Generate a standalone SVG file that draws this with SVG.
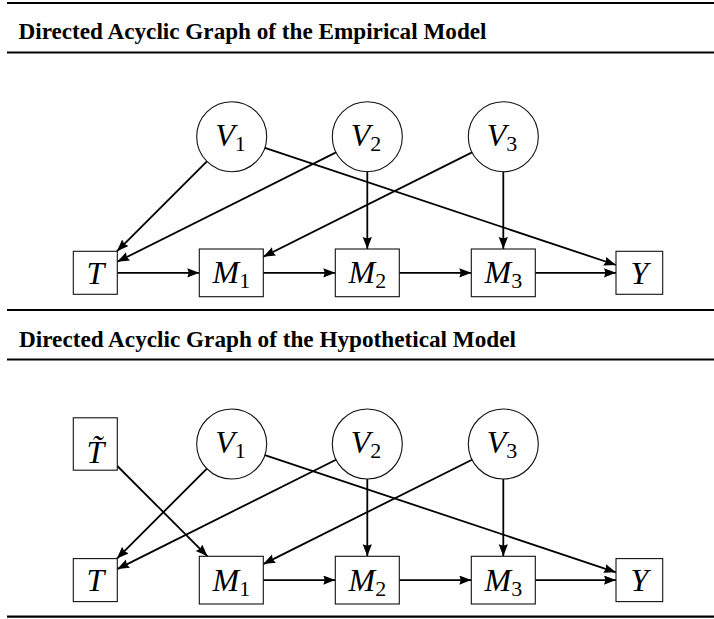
<svg xmlns="http://www.w3.org/2000/svg" width="714" height="619" viewBox="0 0 714 619">
<style>
.rule{stroke:#000;stroke-width:2.2}
.title{font-family:"Liberation Serif",serif;font-weight:bold;font-size:23.5px;fill:#000}
.lbl{font-family:"Liberation Serif",serif;font-style:italic;font-size:32px;fill:#000}
.sub{font-style:normal;font-size:22px}
.node{fill:#fff;stroke:#111;stroke-width:1.1}
.edge{stroke:#000;stroke-width:1.8;fill:none;marker-end:url(#ah)}
</style>
<defs>
<marker id="ah" markerUnits="userSpaceOnUse" markerWidth="13" markerHeight="10" refX="12" refY="4.6" orient="auto">
<path d="M0,0 L12,4.6 L0,9.2 L1.5,4.6 z" fill="#000"/>
</marker>
</defs>
<rect width="714" height="619" fill="#fff"/>
<g id="rules">
<line class="rule" x1="7" y1="3" x2="714" y2="3"/>
<line class="rule" x1="7" y1="52.5" x2="714" y2="52.5"/>
<line class="rule" x1="7" y1="310" x2="714" y2="310"/>
<line class="rule" x1="7" y1="359.5" x2="714" y2="359.5"/>
<line class="rule" x1="7" y1="616.7" x2="714" y2="616.7"/>
</g>
<text id="title1" class="title" x="18.5" y="39" textLength="468" lengthAdjust="spacingAndGlyphs">Directed Acyclic Graph of the Empirical Model</text>
<text id="title2" class="title" x="19" y="346.7" textLength="497" lengthAdjust="spacingAndGlyphs">Directed Acyclic Graph of the Hypothetical Model</text>

<g id="connectors">
<!-- top -->
<line class="edge" x1="206.9" y1="161.4" x2="116.9" y2="251.3"/>
<line class="edge" x1="336.0" y1="152.4" x2="117.3" y2="261.8"/>
<line class="edge" x1="472.0" y1="152.4" x2="263.3" y2="256.8"/>
<line class="edge" x1="264.9" y1="147.8" x2="616" y2="265.0"/>
<line class="edge" x1="367.3" y1="171.7" x2="367.3" y2="249"/>
<line class="edge" x1="503.3" y1="171.7" x2="503.3" y2="249"/>
<line class="edge" x1="117.3" y1="272.8" x2="199.3" y2="272.8"/>
<line class="edge" x1="263.3" y1="272.8" x2="335.3" y2="272.8"/>
<line class="edge" x1="399.3" y1="272.8" x2="471.3" y2="272.8"/>
<line class="edge" x1="535.3" y1="272.8" x2="616" y2="272.8"/>
<!-- bottom -->
<line class="edge" x1="206.9" y1="468.7" x2="116.9" y2="558.6"/>
<line class="edge" x1="336.0" y1="459.7" x2="117.3" y2="569.1"/>
<line class="edge" x1="472.0" y1="459.7" x2="263.3" y2="564.1"/>
<line class="edge" x1="264.9" y1="455.1" x2="616" y2="572.3"/>
<line class="edge" x1="367.3" y1="479" x2="367.3" y2="556.3"/>
<line class="edge" x1="503.3" y1="479" x2="503.3" y2="556.3"/>
<line class="edge" x1="117.3" y1="466.0" x2="207.5" y2="556.3"/>
<line class="edge" x1="263.3" y1="580.1" x2="335.3" y2="580.1"/>
<line class="edge" x1="399.3" y1="580.1" x2="471.3" y2="580.1"/>
<line class="edge" x1="535.3" y1="580.1" x2="616" y2="580.1"/>
</g>

<!-- top graph nodes -->
<g id="V1_top"><circle class="node" cx="231.7" cy="136.7" r="35"/><text class="lbl" x="230.5" y="146" text-anchor="middle">V<tspan class="sub" dy="5">1</tspan></text></g>
<g id="V2_top"><circle class="node" cx="367.3" cy="136.7" r="35"/><text class="lbl" x="366.1" y="146" text-anchor="middle">V<tspan class="sub" dy="5">2</tspan></text></g>
<g id="V3_top"><circle class="node" cx="503.3" cy="136.7" r="35"/><text class="lbl" x="502.1" y="146" text-anchor="middle">V<tspan class="sub" dy="5">3</tspan></text></g>
<g id="T_top"><rect class="node" x="73.3" y="251.3" width="44" height="43"/><text class="lbl" x="95.3" y="284" text-anchor="middle">T</text></g>
<g id="M1_top"><rect class="node" x="199.3" y="249" width="64" height="47.7"/><text class="lbl" x="231.3" y="283.3" text-anchor="middle">M<tspan class="sub" dy="5">1</tspan></text></g>
<g id="M2_top"><rect class="node" x="335.3" y="249" width="64" height="47.7"/><text class="lbl" x="367.3" y="283.3" text-anchor="middle">M<tspan class="sub" dy="5">2</tspan></text></g>
<g id="M3_top"><rect class="node" x="471.3" y="249" width="64" height="47.7"/><text class="lbl" x="503.3" y="283.3" text-anchor="middle">M<tspan class="sub" dy="5">3</tspan></text></g>
<g id="Y_top"><rect class="node" x="616" y="251.3" width="46.7" height="43"/><text class="lbl" x="639.3" y="284" text-anchor="middle">Y</text></g>

<!-- bottom graph nodes -->
<g id="Ttilde"><rect class="node" x="73.3" y="417.8" width="44" height="52.4"/><text class="lbl" x="95.3" y="462.5" text-anchor="middle">T̃</text></g>
<g id="V1_bot"><circle class="node" cx="231.7" cy="444" r="35"/><text class="lbl" x="230.5" y="453.3" text-anchor="middle">V<tspan class="sub" dy="5">1</tspan></text></g>
<g id="V2_bot"><circle class="node" cx="367.3" cy="444" r="35"/><text class="lbl" x="366.1" y="453.3" text-anchor="middle">V<tspan class="sub" dy="5">2</tspan></text></g>
<g id="V3_bot"><circle class="node" cx="503.3" cy="444" r="35"/><text class="lbl" x="502.1" y="453.3" text-anchor="middle">V<tspan class="sub" dy="5">3</tspan></text></g>
<g id="T_bot"><rect class="node" x="73.3" y="558.6" width="44" height="43"/><text class="lbl" x="95.3" y="591.3" text-anchor="middle">T</text></g>
<g id="M1_bot"><rect class="node" x="199.3" y="556.3" width="64" height="47.7"/><text class="lbl" x="231.3" y="590.6" text-anchor="middle">M<tspan class="sub" dy="5">1</tspan></text></g>
<g id="M2_bot"><rect class="node" x="335.3" y="556.3" width="64" height="47.7"/><text class="lbl" x="367.3" y="590.6" text-anchor="middle">M<tspan class="sub" dy="5">2</tspan></text></g>
<g id="M3_bot"><rect class="node" x="471.3" y="556.3" width="64" height="47.7"/><text class="lbl" x="503.3" y="590.6" text-anchor="middle">M<tspan class="sub" dy="5">3</tspan></text></g>
<g id="Y_bot"><rect class="node" x="616" y="558.6" width="46.7" height="43"/><text class="lbl" x="639.3" y="591.3" text-anchor="middle">Y</text></g>
</svg>
